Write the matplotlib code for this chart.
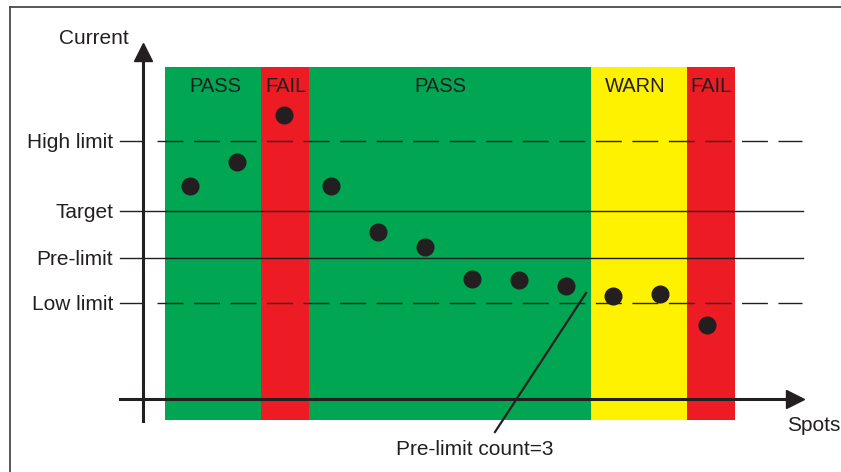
import matplotlib
matplotlib.use("Agg")
import matplotlib.pyplot as plt
from matplotlib.lines import Line2D

plt.rcParams['font.family'] = ['Liberation Sans', 'DejaVu Sans']

# spots and measured current (arbitrary units, x axis at 0)
spots = [1, 2, 3, 4, 5, 6, 7, 8, 9, 10, 11, 12]
current = [9.05, 10.1, 12.1, 9.05, 7.1, 6.45, 5.1, 5.05, 4.8, 4.4, 4.45, 3.15]

# limits
limit_names = ["High limit", "Target", "Pre-limit", "Low limit"]
limit_values = [11.0, 8.0, 6.0, 4.08]
limit_dashed = [True, False, False, True]

# status bands along the spot axis
band_edges = [0.47, 2.51, 3.53, 9.53, 11.57, 12.6]
band_status = ["PASS", "FAIL", "PASS", "WARN", "FAIL"]
band_label_x = [1.54, 3.04, 6.32, 10.47, 12.08]
band_top = 14.13
band_bottom = -0.9

status_colors = {"PASS": "#00a651", "FAIL": "#ed1c24", "WARN": "#fff200"}
ink = "#231f20"

fig = plt.figure(figsize=(8.41, 4.72), dpi=100)
ax = fig.add_axes([0, 0, 1, 1])
ax.set_xlim(-3.0426, 14.851)
ax.set_ylim(-3.106, 16.98)
ax.axis('off')

# frame of the picture (left and top only visible)
fig.add_artist(Line2D([0.0113, 0.0113], [0, 0.985], transform=fig.transFigure,
                      color="#4a4a4a", lw=1.3))
fig.add_artist(Line2D([0.0113, 1], [0.985, 0.985], transform=fig.transFigure,
                      color="#4a4a4a", lw=1.3))

# bands
for i, status in enumerate(band_status):
    ax.fill_between([band_edges[i], band_edges[i + 1]], band_bottom, band_top,
                    color=status_colors[status], lw=0, zorder=1)
    ax.text(band_label_x[i], 13.06, status, ha='center', va='baseline',
            fontsize=14.5, color=ink, zorder=5)

# limit lines
for name, value, dashed in zip(limit_names, limit_values, limit_dashed):
    if dashed:
        ax.plot([-0.489, 0.0], [value, value], color=ink, lw=1.0, zorder=2)
        ax.plot([0.298, 14.02], [value, value], color=ink, lw=1.0,
                linestyle=(0, (18.7, 7.6)), zorder=2)
    else:
        ax.plot([-0.489, 14.043], [value, value], color=ink, lw=1.0, zorder=2)
    ax.text(-0.638, value - 0.3, name, ha='right', va='baseline',
            fontsize=15, color=ink)

# axes with arrows
ax.plot([0.0, 0.0], [-0.92, 14.43], color=ink, lw=2.2, zorder=3)
ax.plot([0.0], [14.77], marker='^', ms=13, color=ink, zorder=3)
ax.plot([-0.489, 13.70], [0, 0], color=ink, lw=2.2, zorder=3)
ax.plot([13.872], [0], marker='>', ms=13, color=ink, zorder=3)

ax.text(-1.043, 15.36, "Current", ha='center', va='center', fontsize=15, color=ink)
ax.text(13.70, -1.36, "Spots", ha='left', va='baseline', fontsize=15, color=ink)

# measurements
ax.plot(spots, current, 'o', ms=12, color=ink, zorder=4)

# pre-limit count annotation
ax.plot([7.489, 9.426], [-1.404, 4.511], color=ink, lw=1.6, zorder=4)
ax.text(7.064, -2.38, "Pre-limit count=3", ha='center', va='baseline',
        fontsize=15, color=ink)

plt.savefig("out.png", dpi=100)
plt.close()
